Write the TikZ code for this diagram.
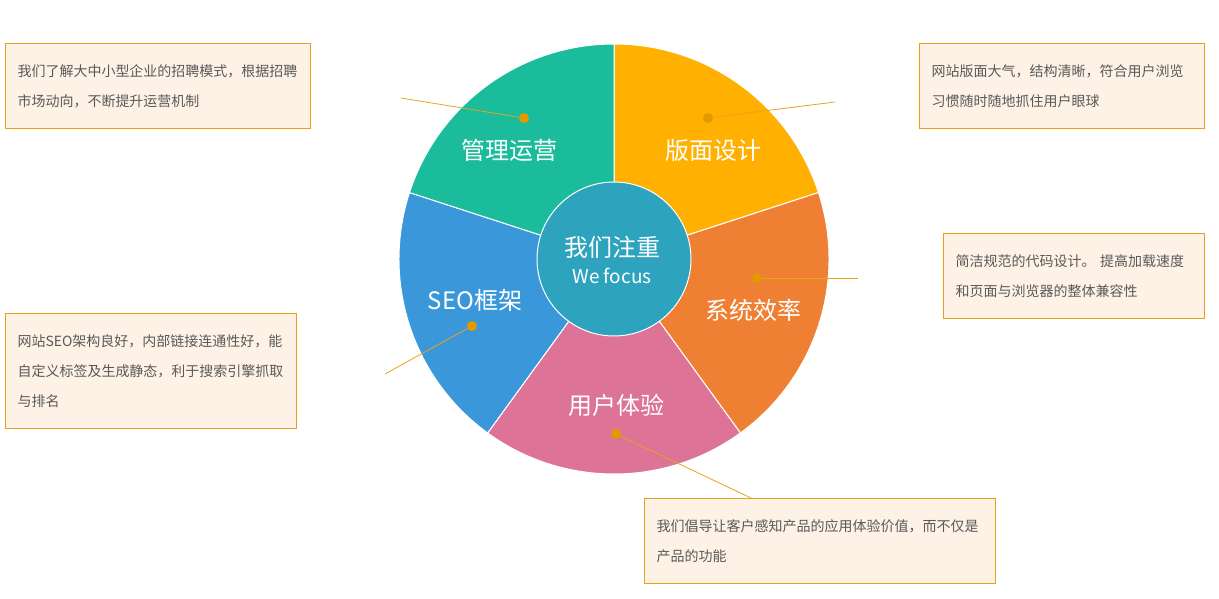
\documentclass[tikz,border=0pt]{standalone}
\usepackage{fontspec}
\setmainfont{Noto Sans CJK SC}
\usetikzlibrary{positioning}

\definecolor{cMgmt}{HTML}{1ABC9C}
\definecolor{cDesign}{HTML}{FFB000}
\definecolor{cEff}{HTML}{EF7F33}
\definecolor{cUx}{HTML}{DD7397}
\definecolor{cSeo}{HTML}{3A98DA}
\definecolor{cHub}{HTML}{2EA3BE}
\definecolor{cDot}{HTML}{E39A00}
\definecolor{cLine}{HTML}{E8A317}
\definecolor{cBorder}{HTML}{E6A01A}
\definecolor{cBox}{HTML}{FEF2E6}
\definecolor{cText}{HTML}{595959}

\begin{document}
\begin{tikzpicture}[
      x=1pt, y=1pt,
      sector/.style={draw=white, line width=1pt},
      label/.style={text=white, font=\fontsize{24}{28}\selectfont, inner sep=0pt},
      dot/.style={circle, fill=cDot, inner sep=0pt, minimum size=10pt},
      lead/.style={draw=cLine, line width=0.8pt},
      box/.style={rectangle, draw=cBorder, fill=cBox, line width=1pt, anchor=north west,
        inner xsep=12pt, inner ysep=0pt, align=left, text=cText, font=\fontsize{14}{30}\selectfont, minimum height=85pt},
    ]
    \useasboundingbox (0,0) rectangle (1219,598);
    \coordinate (c) at (614,339);

    % five sectors
    \foreach \a/\col in {90/cDesign, 18/cEff, -54/cUx, -126/cSeo, 162/cMgmt}
      \filldraw[sector, fill=\col] (c) -- ++(\a:215) arc[start angle=\a, end angle=\a-72, radius=215] -- cycle;

    \node[circle, fill=cHub, draw=white, line width=1pt, minimum size=154pt, inner sep=0pt] (hub) at (c) {};
    \node[label] (hubCn) at (612,351) {我们注重};
    \node[label, font=\fontsize{19}{22}\selectfont] (hubEn) at (612,322) {We focus};

    \node[label] (lMgmt) at (509,448) {管理运营};
    \node[label] (lDesign) at (713,448) {版面设计};
    \node[label] (lEff) at (753,288) {系统效率};
    \node[label] (lSeo) at (475,298) {SEO框架};
    \node[label] (lUx) at (616,193) {用户体验};

    % text boxes
    \node[box, text width=281pt, minimum width=305pt] (bMgmt) at (5,555)
      {我们了解大中小型企业的招聘模式，根据招聘\\市场动向，不断提升运营机制};
    \node[box, text width=261pt, minimum width=285pt] (bDesign) at (919,555)
      {网站版面大气，结构清晰，符合用户浏览\\习惯随时随地抓住用户眼球};
    \node[box, text width=237pt, minimum width=261pt] (bEff) at (943,365)
      {简洁规范的代码设计。 提高加载速度\\和页面与浏览器的整体兼容性};
    \node[box, text width=267pt, minimum width=291pt, minimum height=115pt] (bSeo) at (5,285)
      {网站SEO架构良好，内部链接连通性好，能\\自定义标签及生成静态，利于搜索引擎抓取\\与排名};
    \node[box, text width=327pt, minimum width=351pt] (bUx) at (644,100)
      {我们倡导让客户感知产品的应用体验价值，而不仅是\\产品的功能};

    % leader lines
    \coordinate (eMgmt) at (401,500);
    \coordinate (eDesign) at (835,496);
    \coordinate (eEff) at (858,320);
    \coordinate (eSeo) at (385,224);
    \coordinate (eUx) at (751,100);
    \node[dot] (dMgmt) at (524,480) {};
    \node[dot] (dDesign) at (708,480) {};
    \node[dot] (dEff) at (757,320) {};
    \node[dot] (dSeo) at (472,272) {};
    \node[dot] (dUx) at (616,164) {};
    \draw[lead] (dMgmt) -- (eMgmt);
    \draw[lead] (dDesign) -- (eDesign);
    \draw[lead] (dEff) -- (eEff);
    \draw[lead] (dSeo) -- (eSeo);
    \draw[lead] (dUx) -- (eUx);
  \end{tikzpicture}
\end{document}
